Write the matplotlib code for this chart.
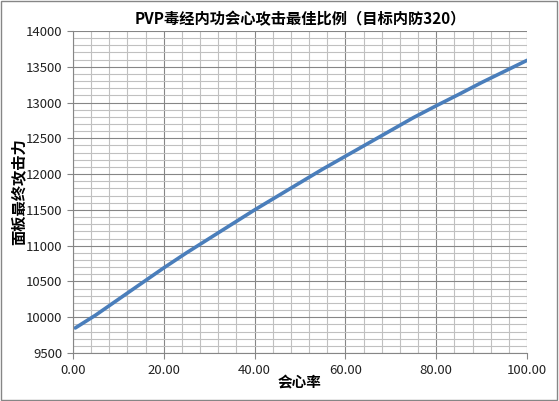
import numpy as np
import matplotlib
matplotlib.use('Agg')
import matplotlib.pyplot as plt
from matplotlib.ticker import MultipleLocator, FormatStrFormatter
from matplotlib.patches import Rectangle

plt.rcParams['font.family'] = ['Noto Sans CJK SC', 'DejaVu Sans']

# 会心率 与 面板最终攻击力
crit_rate = [0.5, 5, 10, 15, 20, 25, 30, 35, 40, 45, 50,
             55, 60, 65, 70, 75, 80, 85, 90, 95, 100]
attack = [9850, 10030, 10250, 10470, 10690, 10900, 11100, 11300, 11500, 11690, 11880,
          12070, 12250, 12430, 12610, 12790, 12955, 13115, 13280, 13435, 13590]

title = 'PVP毒经内功会心攻击最佳比例（目标内防320）'
xlabel = '会心率'
ylabel = '面板最终攻击力'

fig = plt.figure(figsize=(5.59, 4.01), dpi=100)
ax = fig.add_axes([0.1306, 0.1197, 0.8122, 0.803])

# 网格
ax.xaxis.set_major_locator(MultipleLocator(20))
ax.xaxis.set_minor_locator(MultipleLocator(4))
ax.yaxis.set_major_locator(MultipleLocator(500))
ax.yaxis.set_minor_locator(MultipleLocator(100))
ax.grid(which='major', color='#868686', linewidth=0.8)
ax.grid(which='minor', color='#c0c0c0', linewidth=0.8)
ax.set_axisbelow(True)

ax.plot(crit_rate, attack, color='#4a7ebb', linewidth=2.6, solid_capstyle='round')

ax.set_xlim(0, 100)
ax.set_ylim(9500, 14000)
ax.xaxis.set_major_formatter(FormatStrFormatter('%.2f'))

for s in ['top', 'right']:
    ax.spines[s].set_visible(False)
for s in ['left', 'bottom']:
    ax.spines[s].set_color('#868686')
ax.tick_params(which='major', direction='out', length=4, color='#868686',
               labelsize=9.5, labelcolor='#222222')
ax.tick_params(which='minor', length=0)
ax.tick_params(axis='x', pad=4)

ax.set_title(title, fontsize=11, fontweight='bold', pad=5)
ax.set_xlabel(xlabel, fontsize=10.5, fontweight='bold', labelpad=-2)
ax.set_ylabel(ylabel, fontsize=11, fontweight='bold', labelpad=0)

# 图表外框
fig.patches.append(Rectangle((0.002, 0.003), 0.995, 0.994, transform=fig.transFigure,
                             fill=False, edgecolor='#868686', linewidth=1))

fig.savefig('out.png', dpi=100)
